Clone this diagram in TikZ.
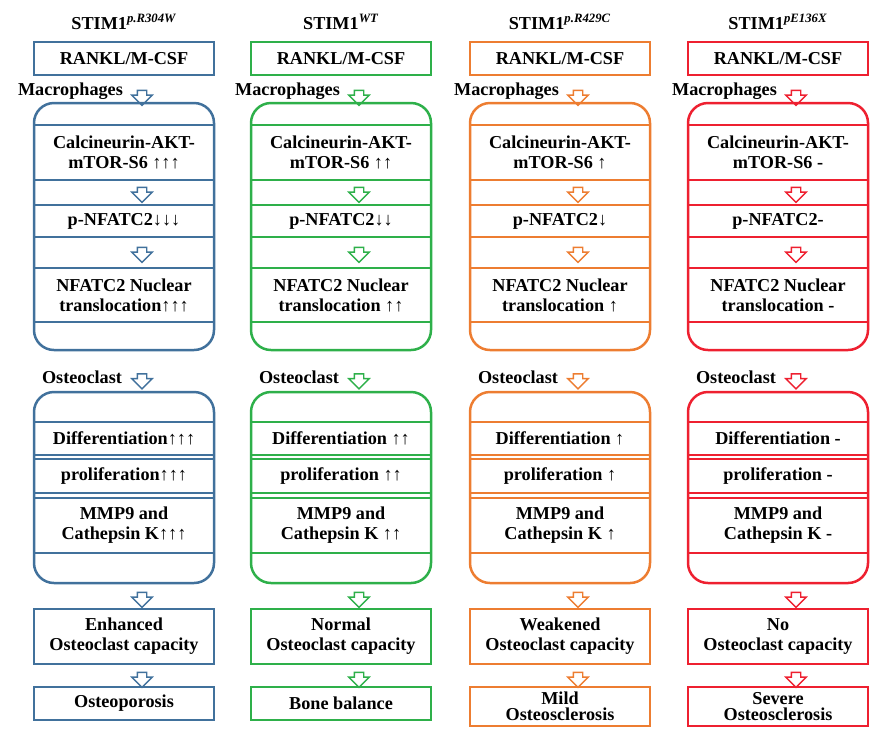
\documentclass[tikz,border=0pt]{standalone}
\usepackage{fontspec}
\setmainfont{Liberation Serif}
\usetikzlibrary{shapes.arrows}

\definecolor{mutblue}{HTML}{41719C}
\definecolor{wtgreen}{HTML}{2EB04A}
\definecolor{mutorange}{HTML}{ED7D31}
\definecolor{mutred}{HTML}{EE2030}

\tikzset{
  plainbox/.style={draw=#1, line width=0.75pt, minimum width=90pt, inner sep=0pt},
  stagebox/.style={draw=#1, line width=1.25pt, rounded corners=10pt, minimum width=90pt, inner sep=0pt},
  rowline/.style={draw=#1, line width=0.7pt},
  downarrow/.style={draw=#1, fill=white, line width=0.7pt, single arrow, rotate=-90,
    single arrow head extend=2.75pt, minimum height=7.5pt, inner sep=2pt},
}

\begin{document}
\begin{tikzpicture}[x=0.5pt, y=-0.5pt, font=\fontsize{9.1}{10}\selectfont\bfseries,
    every node/.append style={align=center}]
    \useasboundingbox (0,0) rectangle (886,745);

    \foreach \cx/\col/\mut/\up/\dn/\gap/\eff/\outcome/\oh [count=\i] in {
        124/mutblue/p.R304W/↑↑↑/↓↓↓/\relax/Enhanced/Osteoporosis/16.5,
        341/wtgreen/WT/↑↑/↓↓/\space/Normal/Bone balance/16.5,
        560/mutorange/p.R429C/↑/↓/\space/Weakened/{Mild\\Osteosclerosis}/19.5,
        778/mutred/pE136X/-/-/\space/No/{Severe\\Osteosclerosis}/19.5}
    {
        \node (title\i) at (\cx, 22) {STIM1\textsuperscript{\itshape\mut}};
        \node[plainbox=\col, minimum height=16.5pt] (rankl\i) at (\cx, 58.5) {RANKL/M-CSF};

        % macrophage stage
        \node[anchor=west] (macro\i) at (\cx-113, 91) {Macrophages};
        \node[downarrow=\col] (arrA\i) at (\cx+18, 95.5) {};
        \node[stagebox=\col, minimum height=123.5pt] (signal\i) at (\cx, 226.5) {};
        \foreach \y in {125, 180, 205, 237, 268, 322}
            \draw[rowline=\col] (\cx-90, \y) -- (\cx+90, \y);
        \node (calc\i) at (\cx, 152) {Calcineurin-AKT-\\mTOR-S6 \up};
        \node[downarrow=\col] (arrB\i) at (\cx+18, 192.5) {};
        \node (pnfat\i) at (\cx, 221) {p-NFATC2\dn};
        \node[downarrow=\col] (arrC\i) at (\cx+18, 252.5) {};
        \node (nucl\i) at (\cx, 295) {NFATC2 Nuclear\\translocation\gap\up};

        % osteoclast stage
        \node[anchor=west] (ocl\i) at (\cx-89, 377) {Osteoclast};
        \node[downarrow=\col] (arrD\i) at (\cx+18, 379) {};
        \node[stagebox=\col, minimum height=95.5pt] (func\i) at (\cx, 487.5) {};
        \foreach \y in {422, 455, 459, 493, 498, 553}
            \draw[rowline=\col] (\cx-90, \y) -- (\cx+90, \y);
        \node (diff\i) at (\cx, 438.5) {Differentiation\gap\up};
        \node (prol\i) at (\cx, 476) {proliferation\gap\up};
        \node (mmp\i) at (\cx, 525.5) {MMP9 and\\Cathepsin K\gap\up};

        % outcome
        \node[downarrow=\col] (arrE\i) at (\cx+18, 597.5) {};
        \node[plainbox=\col, minimum height=27.5pt] (cap\i) at (\cx, 636.5) {\eff\\Osteoclast capacity};
        \node[downarrow=\col] (arrF\i) at (\cx+18, 677.5) {};
        \node[plainbox=\col, minimum height=\oh pt, anchor=north, font=\fontsize{9.1}{8}\selectfont\bfseries]
            (out\i) at (\cx, 686) {\outcome};
    }
\end{tikzpicture}
\end{document}
